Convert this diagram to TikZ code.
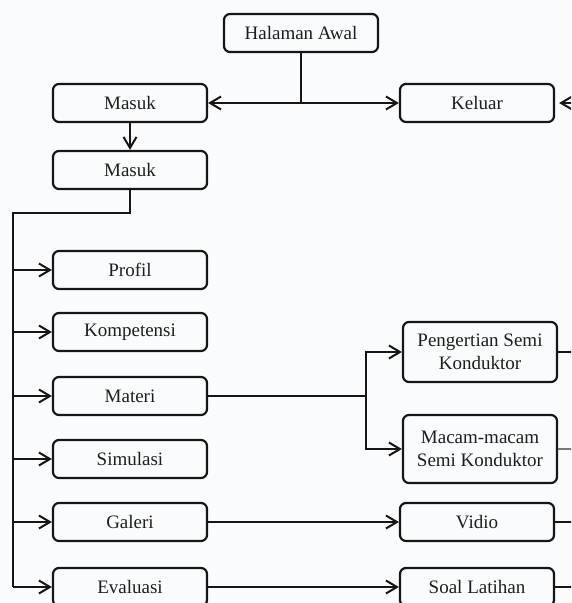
\documentclass[tikz,border=0pt]{standalone}
\usepackage{fontspec}
\setmainfont{Liberation Serif}
\usetikzlibrary{
  arrows.meta,
  positioning,
  calc
}
\definecolor{PageBg}{RGB}{249,251,252}
\definecolor{EdgeDark}{RGB}{22,22,22}
\definecolor{LabelDark}{RGB}{30,30,30}
\definecolor{FaintGray}{RGB}{120,120,120}
\tikzset{
  menubox/.style={draw=EdgeDark,line width=1.1pt,rounded corners=3pt,minimum height=19pt,minimum width=77pt,inner sep=0pt,align=center,text=LabelDark,font=\fontsize{9.5}{11.5}\selectfont},
  tallbox/.style={menubox,minimum height=30pt},
  tallerbox/.style={menubox,minimum height=34pt},
  link/.style={line width=1pt,draw=EdgeDark},
  faintlink/.style={line width=0.6pt,draw=FaintGray},
  pointer/.style={-{Straight Barb[length=5.5pt,width=6.5pt,line width=1pt]},line width=1pt,draw=EdgeDark}
}

\begin{document}
\begin{tikzpicture}[x=0.5pt,y=-0.5pt]
\path[use as bounding box,fill=PageBg] (0,0) rectangle (571,603);
\clip (0,0) rectangle (571,603);
\node[menubox] (awal) at (301,33) {Halaman Awal};
\node[menubox] (masuk) at (130,103) {Masuk};
\node[menubox] (keluar) at (477,103) {Keluar};
\node[menubox] (masuklagi) at (130,170) {Masuk};
\node[menubox] (profil) at (130,270) {Profil};
\node[menubox] (kompetensi) at (130,332) {Kompetensi};
\node[menubox] (materi) at (130,396) {Materi};
\node[menubox] (simulasi) at (130,459) {Simulasi};
\node[menubox] (galeri) at (130,522) {Galeri};
\node[menubox] (evaluasi) at (130,587) {Evaluasi};
\node[tallbox] (pengertian) at (480,352) {Pengertian Semi\\Konduktor};
\node[tallerbox] (macam) at (480,449) {Macam-macam\\Semi Konduktor};
\node[menubox] (vidio) at (477,522) {Vidio};
\node[menubox] (soal) at (477,587) {Soal Latihan};
\coordinate (split) at (awal.south |- masuk.east);
\coordinate (spinetop) at (13,213);
\coordinate (spinebot) at (13,587);
\coordinate (matsplit) at (366,396);
\coordinate (rim) at (580,0);
\draw[link] (awal) -- (split);
\draw[pointer] (split) -- (masuk);
\draw[pointer] (split) -- (keluar);
\draw[pointer,shorten >=2pt] (keluar.east -| rim) -- (keluar.east);
\draw[pointer] (masuk) -- (masuklagi);
\draw[link] (masuklagi.south) |- (spinetop) -- (spinebot);
\foreach \item in {profil,kompetensi,materi,simulasi,galeri,evaluasi}
  \draw[pointer] (spinetop |- \item.west) -- (\item.west);
\draw[link] (materi.east) -- (matsplit);
\draw[pointer] (matsplit) |- (pengertian.west);
\draw[pointer] (matsplit) |- (macam.west);
\draw[pointer] (galeri) -- (vidio);
\draw[pointer] (evaluasi) -- (soal);
\draw[link] (pengertian.east) -- (pengertian.east -| rim);
\draw[faintlink] (macam.east) -- (macam.east -| rim);
\draw[link] (vidio.east) -- (vidio.east -| rim);
\draw[link] (soal.east) -- (soal.east -| rim);
\end{tikzpicture}
\end{document}
